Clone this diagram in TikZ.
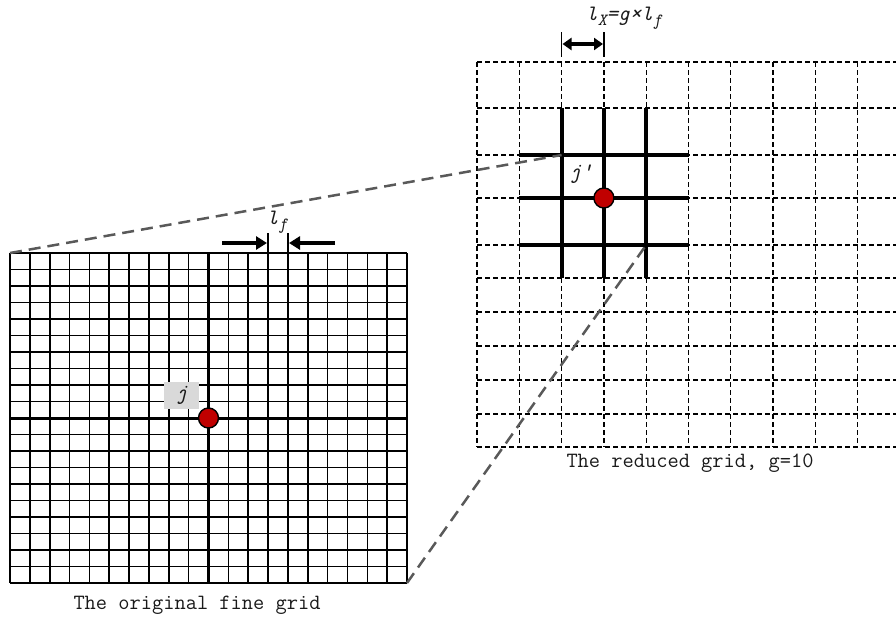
\documentclass[tikz,border=0pt]{standalone}
\usepackage{fontspec}
\usetikzlibrary{arrows.meta}
\definecolor{dotred}{HTML}{C00000}
\definecolor{linkgray}{HTML}{595959}
\definecolor{boxgray}{HTML}{D9D9D9}
\definecolor{txt}{HTML}{1A1A1A}
\newcommand{\subtxt}[1]{\raisebox{-0.5ex}{\fontsize{17}{17}\selectfont #1}}
\tikzset{
  fineline/.style={line width=1.6pt, black},
  heavyline/.style={line width=3pt, black},
  redline/.style={line width=1.3pt, black, dash pattern=on 5pt off 3pt},
  heavyred/.style={line width=3.8pt, black},
  linkline/.style={line width=2.5pt, linkgray, dash pattern=on 12pt off 7pt},
  tickline/.style={line width=1.7pt, black},
  dimarrow/.style={line width=3.2pt, black},
  reddot/.style={circle, fill=dotred, draw=black, line width=1.4pt, minimum size=20pt, inner sep=0pt},
  captxt/.style={font=\ttfamily\fontsize{21.8}{22}\selectfont, text=txt, inner sep=0pt},
  labtxt/.style={font=\ttfamily\itshape\fontsize{22}{22}\selectfont, text=txt, inner sep=0pt},
}
\begin{document}
\begin{tikzpicture}[x=1pt,y=-1pt]
\useasboundingbox (0,0) rectangle (896,621);
\clip (0,0) rectangle (896,621);
% ---------- fine grid ----------
\foreach \i in {0,...,20} \draw[fineline] ({10+\i*19.85},253) -- ({10+\i*19.85},583);
\foreach \i in {0,...,20} \draw[fineline] (10,{253+\i*16.5}) -- (407,{253+\i*16.5});
\draw[heavyline] (208.5,253) -- (208.5,583);
\draw[heavyline] (10,418) -- (407,418);
\coordinate (fineTL) at (10,253);
\coordinate (fineBR) at (407,583);
% ---------- reduced grid ----------
\foreach \i in {0,...,10} \draw[redline] ({477+\i*42.3},62) -- ({477+\i*42.3},447);
\foreach \y in {62,108,155,198,245,278,312,346,380,414,447} \draw[redline] (477,\y) -- (905,\y);
\foreach \i in {2,3,4} \draw[heavyred] ({477+\i*42.3},108) -- ({477+\i*42.3},278);
\foreach \y in {155,198,245} \draw[heavyred] (519.3,\y) -- (688.5,\y);
\coordinate (redA) at (561.6,155);
\coordinate (redB) at (646.2,245);
% ---------- connectors ----------
\draw[linkline] (fineTL) -- (redA);
\draw[linkline] (fineBR) -- (redB);
% ---------- dots and labels ----------
\node[reddot] (jdot) at (208.5,418) {};
\node[reddot] (jpdot) at (603.9,198) {};
\node[labtxt, fill=boxgray, minimum width=35pt, minimum height=27pt] (jlab) at (181.5,395.5) {j};
\node[labtxt] (jplab) at (581,174) {j'};
% ---------- l_f dimension ----------
\coordinate (ta1) at (268,233);
\coordinate (ta2) at (268,252);
\coordinate (tb1) at (288,233);
\coordinate (tb2) at (288,252);
\draw[tickline] (ta1) -- (ta2);
\draw[tickline] (tb1) -- (tb2);
\coordinate (arLs) at (222,243);
\coordinate (arLe) at (267,243);
\coordinate (arRs) at (335,243);
\coordinate (arRe) at (289,243);
\draw[dimarrow, -{Triangle[length=11pt,width=13pt]}] (arLs) -- (arLe);
\draw[dimarrow, -{Triangle[length=11pt,width=13pt]}] (arRs) -- (arRe);
\node[labtxt] (lflab) at (277,222) {l\subtxt{f}};
% ---------- l_X dimension ----------
\coordinate (tc1) at (561.6,32);
\coordinate (tc2) at (561.6,57);
\coordinate (td1) at (603.9,32);
\coordinate (td2) at (603.9,57);
\draw[tickline] (tc1) -- (tc2);
\draw[tickline] (td1) -- (td2);
\coordinate (dA) at (562.5,44);
\coordinate (dB) at (603,44);
\draw[dimarrow, {Triangle[length=9pt,width=12pt]}-{Triangle[length=9pt,width=12pt]}] (dA) -- (dB);
\node[labtxt] (lxlab) at (624,18) {l\subtxt{X}=g×l\subtxt{f}};
% ---------- captions ----------
\node[captxt] (cap1) at (197,605) {The original fine grid};
\node[captxt] (cap2) at (690,463) {The reduced grid, g=10};
\end{tikzpicture}
\end{document}
